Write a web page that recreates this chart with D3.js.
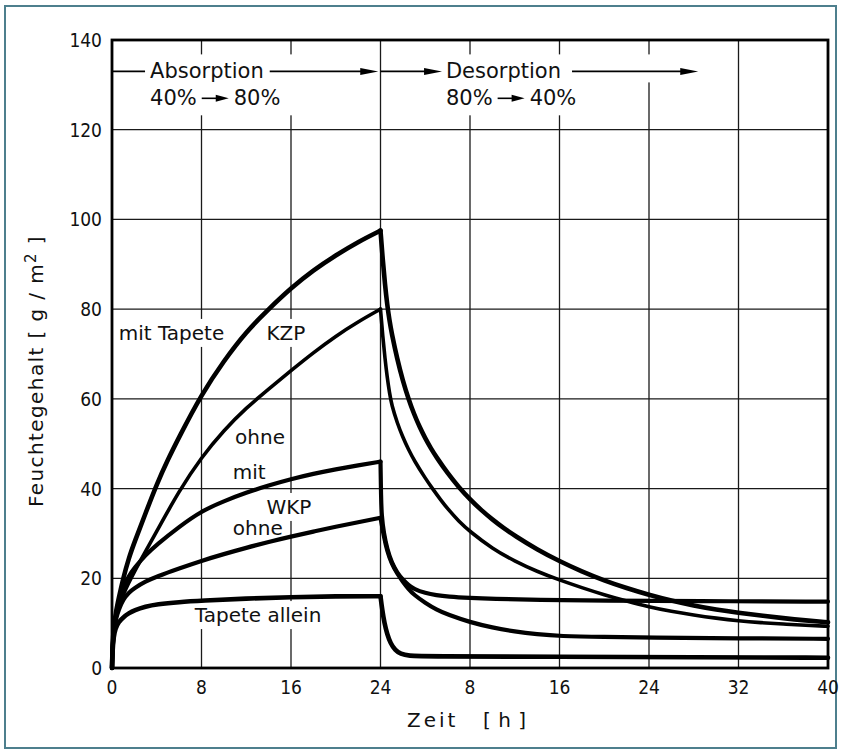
<!DOCTYPE html>
<html>
<head>
<meta charset="utf-8">
<script src="https://cdn.jsdelivr.net/npm/d3@7"></script>
<style>
body { margin: 0; background: #fff; }
svg { display: block; }
text { font-family: "DejaVu Sans", sans-serif; fill: #111; }
</style>
</head>
<body>
<svg width="842" height="755"></svg>
<script>
// time axis runs 0..64 h (24 h absorption, then 40 h desorption)
var xTickValues = [0, 8, 16, 24, 32, 40, 48, 56, 64]
var xTickLabels = ['0', '8', '16', '24', '8', '16', '24', '32', '40']
var yTickValues = [0, 20, 40, 60, 80, 100, 120, 140]

// [t in h, moisture in g/m2]
var kzpMitAbs = [[0,0],[0.05,5],[0.15,9],[0.35,12.5],[0.6,15.5],[1,20],[1.5,24.5],[2,28],[3,34.5],[4,41],[5,46.5],[6,51.5],[8,61],[10,68.5],[12,75],[14,80],[16,84.7],[18,88.7],[20,92],[22,95],[24,97.5]]
var kzpMitDes = [[24,97.5],[24.2,91],[24.4,85.5],[24.6,81],[24.8,77.5],[25,74.6],[25.5,68.8],[26,64],[26.5,60],[27,56.6],[27.5,53.7],[28,51.2],[28.5,49],[29,47],[30,43.4],[31,40.3],[32,37.6],[33,35.2],[34,33.1],[35,31.2],[36,29.5],[38,26.4],[40,23.8],[42,21.5],[44,19.5],[46,17.8],[48,16.3],[50,15],[52,13.9],[54,13],[56,12.3],[58,11.7],[60,11.1],[62,10.6],[64,10.2]]

var kzpOhneAbs = [[0,0],[0.05,5],[0.15,8.5],[0.35,11.5],[0.6,13.5],[1,16.5],[2,21.5],[3,26],[4,30.5],[6,39.5],[8,47],[10,53],[12,58],[14,62.2],[16,66.3],[18,70.3],[20,74],[22,77.2],[24,80]]
var kzpOhneDes = [[24,80],[24.2,74],[24.4,69],[24.6,64.8],[24.8,61.4],[25,58.6],[25.5,54.6],[26,51.4],[26.5,48.7],[27,46.3],[28,42.3],[28.7,39.8],[29.4,37.4],[30,35.5],[31,32.7],[32,30.4],[34,26.6],[36,23.8],[38,21.5],[40,19.6],[42,17.9],[44,16.3],[46,14.9],[48,13.6],[50,12.6],[52,11.8],[54,11.1],[56,10.5],[58,10.1],[60,9.8],[62,9.5],[64,9.3]]

var wkpMitAbs = [[0,0],[0.05,5],[0.15,8.5],[0.35,12],[0.6,15],[1,18],[1.5,20.5],[2,22.3],[3,25.2],[4,27.5],[6,31.5],[8,35],[10,37.2],[12,39.1],[14,40.7],[16,42.1],[18,43.3],[20,44.3],[22,45.2],[24,46]]
var wkpMitDes = [[24,46],[24.05,38],[24.1,34],[24.3,30],[24.6,26.5],[25,23.5],[25.5,21.2],[26,19.7],[26.5,18.5],[27,17.6],[28,16.7],[29,16.2],[30,15.9],[32,15.6],[34,15.4],[38,15.2],[44,15],[52,14.9],[64,14.8]]

var wkpOhneAbs = [[0,0],[0.05,4.5],[0.15,8],[0.35,11],[0.6,13],[1,15.3],[1.5,16.8],[2,17.8],[3,19.3],[4,20.4],[6,22.2],[8,23.9],[10,25.4],[12,26.8],[14,28.1],[16,29.3],[18,30.4],[20,31.5],[22,32.5],[24,33.5]]
var wkpOhneDes = [[24,33.5],[24.3,29.3],[24.6,26],[25,23.2],[25.5,21],[26,19.2],[26.5,17.6],[27,16.3],[28,14.5],[29,13],[30,11.9],[32,10.2],[34,9],[36,8.1],[38,7.5],[40,7.1],[44,6.9],[48,6.8],[56,6.6],[64,6.5]]

var tapeteAbs = [[0,0],[0.05,4],[0.15,7],[0.3,8.8],[0.6,10.3],[1,11.3],[1.5,12.2],[2,12.9],[3,13.7],[4,14.2],[6,14.7],[8,15],[12,15.5],[16,15.8],[20,16],[24,16]]
var tapeteDes = [[24,16],[24.15,13],[24.35,10],[24.6,7.5],[24.9,5.5],[25.3,4],[25.8,3.1],[26.5,2.7],[28,2.6],[40,2.5],[52,2.4],[64,2.3]]

var curveLabels = [
	{text: 'mit Tapete', t: 0.6, v: 74.7},
	{text: 'KZP', t: 13.8, v: 74.7},
	{text: 'ohne', t: 11.0, v: 51.5},
	{text: 'mit', t: 10.8, v: 43.7},
	{text: 'WKP', t: 13.8, v: 35.9},
	{text: 'ohne', t: 10.8, v: 31.2},
	{text: 'Tapete allein', t: 7.4, v: 11.8}
]

var svg = d3.select('svg')
var x = d3.scaleLinear().domain([0, 64]).range([112, 828])
var y = d3.scaleLinear().domain([0, 140]).range([668, 40])

// outer frame of the figure
svg.append('rect')
	.attr('x', 5).attr('y', 6).attr('width', 831).attr('height', 742)
	.attr('fill', 'none').attr('stroke', '#4d7f8d').attr('stroke-width', 2)

var gGrid = svg.append('g')
var gMask = svg.append('g')
var gCurves = svg.append('g')
var gText = svg.append('g')

gGrid.selectAll('line.v')
	.data(xTickValues.slice(1, -1))
	.enter().append('line')
		.attr('x1', function(d) { return x(d) }).attr('x2', function(d) { return x(d) })
		.attr('y1', y(0)).attr('y2', y(140))
		.attr('stroke', '#1a1a1a').attr('stroke-width', 1.3)

gGrid.selectAll('line.h')
	.data(yTickValues.slice(1, -1))
	.enter().append('line')
		.attr('y1', function(d) { return y(d) }).attr('y2', function(d) { return y(d) })
		.attr('x1', x(0)).attr('x2', x(64))
		.attr('stroke', '#1a1a1a').attr('stroke-width', 1.3)

var line = d3.line()
	.x(function(d) { return x(d[0]) })
	.y(function(d) { return y(d[1]) })
	.curve(d3.curveBasis)

var curves = [
	{data: kzpMitAbs, w: 4.6}, {data: kzpMitDes, w: 4.6},
	{data: kzpOhneAbs, w: 3.6}, {data: kzpOhneDes, w: 3.6},
	{data: wkpMitAbs, w: 4.2}, {data: wkpMitDes, w: 4.2},
	{data: wkpOhneAbs, w: 4.2}, {data: wkpOhneDes, w: 4.2},
	{data: tapeteAbs, w: 4.6}, {data: tapeteDes, w: 4.6}
]

gCurves.selectAll('path')
	.data(curves)
	.enter().append('path')
		.attr('d', function(d) { return line(d.data) })
		.attr('fill', 'none')
		.attr('stroke', '#000')
		.attr('stroke-width', function(d) { return d.w })
		.attr('stroke-linejoin', 'round')
		.attr('stroke-linecap', 'round')

// plot frame
gCurves.append('rect')
	.attr('x', x(0)).attr('y', y(140))
	.attr('width', x(64) - x(0)).attr('height', y(0) - y(140))
	.attr('fill', 'none').attr('stroke', '#000').attr('stroke-width', 2.8)

// tick labels
gText.selectAll('text.xt')
	.data(xTickValues)
	.enter().append('text')
		.attr('x', function(d) { return x(d) })
		.attr('y', 687)
		.attr('text-anchor', 'middle')
		.attr('dominant-baseline', 'central')
		.style('font-family', '"DejaVu Sans Condensed", "DejaVu Sans", sans-serif')
		.style('font-size', '19px')
		.text(function(d, i) { return xTickLabels[i] })

gText.selectAll('text.yt')
	.data(yTickValues)
	.enter().append('text')
		.attr('x', 102)
		.attr('y', function(d) { return y(d) })
		.attr('text-anchor', 'end')
		.attr('dominant-baseline', 'central')
		.style('font-family', '"DejaVu Sans Condensed", "DejaVu Sans", sans-serif')
		.style('font-size', '19px')
		.text(function(d) { return d })

// axis titles
gText.append('text')
	.attr('x', 407).attr('y', 720)
	.attr('dominant-baseline', 'central')
	.style('font-size', '20px').style('letter-spacing', '3px')
	.text('Zeit')
gText.append('text')
	.attr('x', 483).attr('y', 720)
	.attr('dominant-baseline', 'central')
	.style('font-size', '20px').style('letter-spacing', '0.5px')
	.text('[ h ]')

var yTitle = gText.append('text')
	.attr('transform', 'translate(36,371) rotate(-90)')
	.attr('text-anchor', 'middle').attr('dominant-baseline', 'central')
	.style('font-size', '20px').style('letter-spacing', '1.4px')
yTitle.append('tspan').text('Feuchtegehalt  [ g / m')
yTitle.append('tspan').attr('baseline-shift', '35%').style('font-size', '15px').text('2')
yTitle.append('tspan').text(' ]')

// header with arrows
function arrowHead(x2, yy, len, half) {
	return 'M' + x2 + ',' + yy + 'L' + (x2 - len) + ',' + (yy - half) + 'L' + (x2 - len) + ',' + (yy + half) + 'Z'
}

function drawArrow(g, x1, x2, yy, len, half) {
	g.append('line').attr('x1', x1).attr('x2', x2 - len + 2).attr('y1', yy).attr('y2', yy)
		.attr('stroke', '#000').attr('stroke-width', 1.6)
	g.append('path').attr('d', arrowHead(x2, yy, len, half)).attr('fill', '#000')
}

var row1 = y(133)
var row2 = y(127)

function headerBlock(word, from, to, xStart) {
	var g = gText.append('g')
	var t1 = g.append('text').attr('x', xStart).attr('y', row1)
		.attr('dominant-baseline', 'central').style('font-size', '21px').text(word)
	var a = g.append('text').attr('x', xStart).attr('y', row2)
		.attr('dominant-baseline', 'central').style('font-size', '21px').text(from)
	var aEnd = xStart + a.node().getComputedTextLength()
	drawArrow(g, aEnd + 5, aEnd + 32, row2, 13, 3.5)
	g.append('text').attr('x', aEnd + 37).attr('y', row2)
		.attr('dominant-baseline', 'central').style('font-size', '21px').text(to)
	return {g: g, end: xStart + t1.node().getComputedTextLength()}
}

var absBlock = headerBlock('Absorption', '40%', '80%', x(3.4))
var desBlock = headerBlock('Desorption', '80%', '40%', x(29.85))

var gArrows = gText.append('g')
gArrows.append('line').attr('x1', x(0)).attr('x2', x(3.4) - 5).attr('y1', row1).attr('y2', row1)
	.attr('stroke', '#000').attr('stroke-width', 1.6)
drawArrow(gArrows, absBlock.end + 6, x(23.8), row1, 18, 3.5)
drawArrow(gArrows, x(24), x(29.5), row1, 18, 3.5)
var tailStart = desBlock.end + 11
drawArrow(gArrows, tailStart, x(52.4), row1, 18, 3.5)

// white patches where the grid is cut behind the header
var maskTop = 0
;[absBlock, desBlock].forEach(function(b) {
	var bb = b.g.node().getBBox()
	maskTop = bb.y - 5
	gMask.append('rect')
		.attr('x', bb.x - 18).attr('y', bb.y - 5)
		.attr('width', bb.width + 36).attr('height', bb.height + 10)
		.attr('fill', '#fff')
})
gMask.append('rect')
	.attr('x', tailStart).attr('y', maskTop)
	.attr('width', x(52.4) - tailStart).attr('height', row1 + 11 - maskTop)
	.attr('fill', '#fff')

// curve labels
gText.selectAll('text.lab')
	.data(curveLabels)
	.enter().append('text')
		.attr('x', function(d) { return x(d.t) })
		.attr('y', function(d) { return y(d.v) })
		.attr('dominant-baseline', 'central')
		.style('font-size', '20px')
		.text(function(d) { return d.text })
		.each(function() {
			var bb = this.getBBox()
			gMask.append('rect')
				.attr('x', bb.x - 3).attr('y', bb.y - 2)
				.attr('width', bb.width + 6).attr('height', bb.height + 4)
				.attr('fill', '#fff')
		})
</script>
</body>
</html>
